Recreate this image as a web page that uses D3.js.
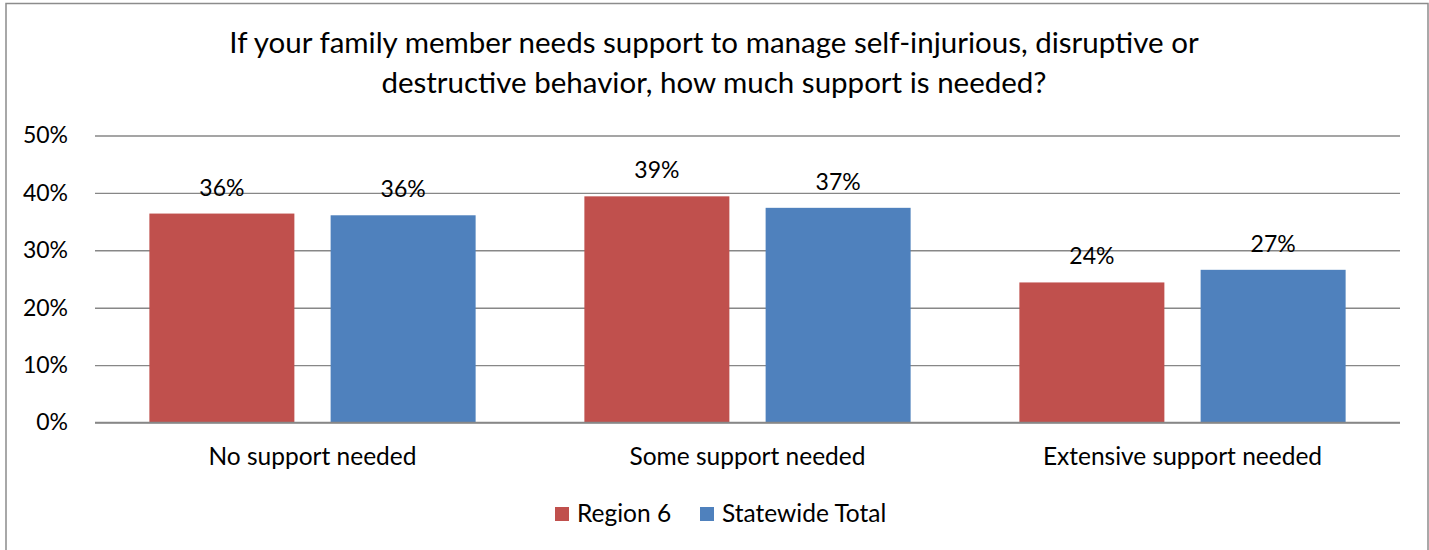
<!DOCTYPE html>
<html>
<head>
<meta charset="utf-8">
<script src="https://cdn.jsdelivr.net/npm/d3@7"></script>
<style>
  html, body { margin: 0; padding: 0; background: #fff; }
  svg { display: block; font-family: Lato, "Open Sans", sans-serif; }
</style>
</head>
<body>
<svg id="chart" width="1429" height="550"></svg>
<script>
// Survey categories and the two series compared
const categories = ["No support needed", "Some support needed", "Extensive support needed"];
const seriesNames = ["Region 6", "Statewide Total"];
const region6 = [0.364, 0.394, 0.244];
const statewide = [0.361, 0.374, 0.266];
const yTicks = [0, 0.1, 0.2, 0.3, 0.4, 0.5];
const titleLines = [
  "If your family member needs support to manage self-injurious, disruptive or",
  "destructive behavior, how much support is needed?"
];
const colors = ["#C0504D", "#4F81BD"];

const svg = d3.select("#chart");
const plot = { left: 95, right: 1400, top: 135.5, bottom: 422.5 };

// chart frame
svg.append("rect")
  .attr("x", 6).attr("y", 3.5)
  .attr("width", 1422).attr("height", 560)
  .attr("fill", "#fff")
  .attr("stroke", "#8c8c8c").attr("stroke-width", 1.5);

// title
svg.append("g").selectAll("text")
  .data(titleLines)
  .join("text")
  .attr("x", 714)
  .attr("y", (d, i) => 53 + i * 39.5)
  .attr("text-anchor", "middle")
  .attr("font-size", 29.5)
  .attr("fill", "#000")
  .text(d => d);

const y = d3.scaleLinear().domain([0, 0.5]).range([plot.bottom, plot.top]);
const x0 = d3.scaleBand().domain(categories).range([plot.left, plot.right]).padding(0);
const x1 = d3.scaleBand().domain(seriesNames).range([0, x0.bandwidth()])
  .paddingInner(0.2).paddingOuter(0.3);

// gridlines and value axis labels
const yAxis = d3.axisLeft(y)
  .tickValues(yTicks)
  .tickFormat(d3.format(".0%"))
  .tickSize(-(plot.right - plot.left))
  .tickPadding(27);
const gy = svg.append("g")
  .attr("transform", `translate(${plot.left},0)`)
  .call(yAxis);
gy.select(".domain").remove();
gy.selectAll(".tick line").attr("stroke", "#878787").attr("stroke-width", 1.4);
gy.selectAll(".tick text")
  .attr("font-size", 23)
  .attr("font-family", "Lato, sans-serif")
  .attr("fill", "#000");

// bars
const rows = categories.map((c, i) => ({ cat: c, vals: [region6[i], statewide[i]] }));
const groups = svg.append("g").selectAll("g")
  .data(rows)
  .join("g")
  .attr("transform", d => `translate(${x0(d.cat)},0)`);

groups.selectAll("rect")
  .data(d => d.vals.map((v, j) => ({ s: seriesNames[j], v, j })))
  .join("rect")
  .attr("x", d => x1(d.s))
  .attr("y", d => y(d.v))
  .attr("width", x1.bandwidth())
  .attr("height", d => y(0) - y(d.v))
  .attr("fill", d => colors[d.j]);

// value labels above bars
groups.selectAll("text")
  .data(d => d.vals.map((v, j) => ({ s: seriesNames[j], v, j })))
  .join("text")
  .attr("x", d => x1(d.s) + x1.bandwidth() / 2)
  .attr("y", d => y(d.v) - 18)
  .attr("text-anchor", "middle")
  .attr("font-size", 23)
  .attr("fill", "#000")
  .text(d => d3.format(".0%")(d.v));

// category axis line and labels
svg.append("line")
  .attr("x1", plot.left).attr("x2", plot.right)
  .attr("y1", plot.bottom).attr("y2", plot.bottom)
  .attr("stroke", "#878787").attr("stroke-width", 1.4);

svg.append("g").selectAll("text")
  .data(categories)
  .join("text")
  .attr("x", d => x0(d) + x0.bandwidth() / 2)
  .attr("y", 465)
  .attr("text-anchor", "middle")
  .attr("font-size", 24.5)
  .attr("fill", "#000")
  .text(d => d);

// legend
const legendX = [555, 700];
const legend = svg.append("g").selectAll("g")
  .data(seriesNames)
  .join("g")
  .attr("transform", (d, i) => `translate(${legendX[i]},507)`);
legend.append("rect")
  .attr("width", 14).attr("height", 14)
  .attr("fill", (d, i) => colors[i]);
legend.append("text")
  .attr("x", 22).attr("y", 15)
  .attr("font-size", 24.5)
  .attr("fill", "#000")
  .text(d => d);
</script>
</body>
</html>
